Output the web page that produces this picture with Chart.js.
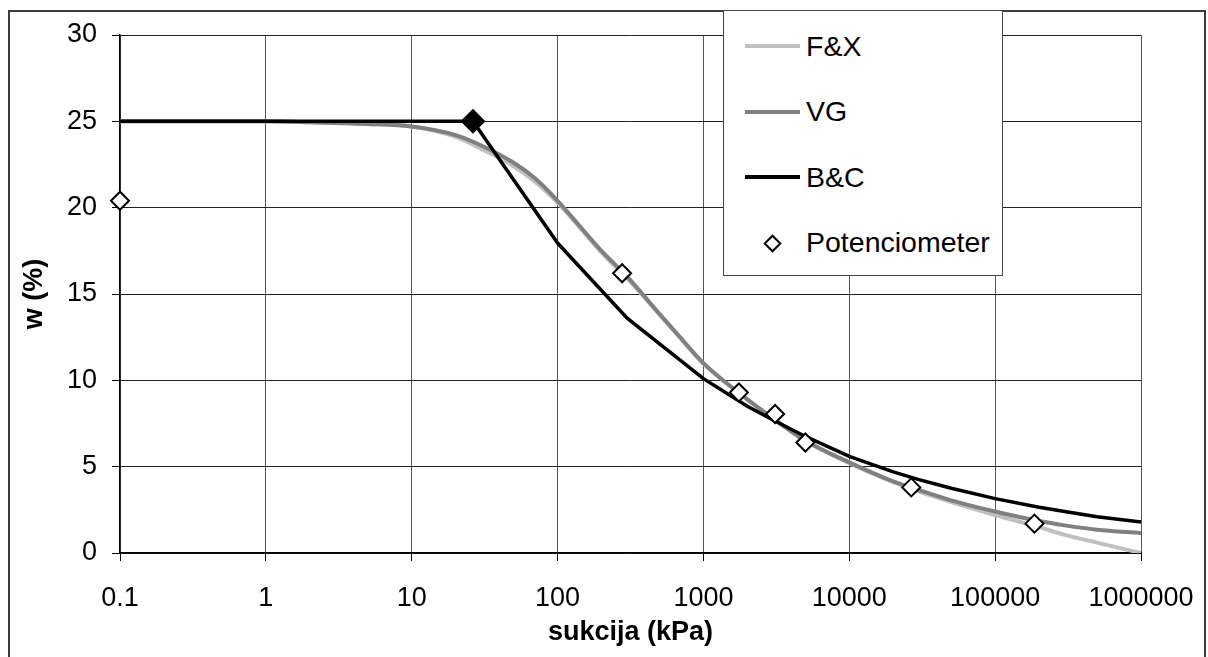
<!DOCTYPE html>
<html>
<head>
<meta charset="utf-8">
<script src="https://cdn.jsdelivr.net/npm/chart.js@4"></script>
<style>
body { margin: 0; background: #fff; font-family: "Liberation Sans", Arial, sans-serif; }
#wrap { position: relative; width: 1208px; height: 657px; overflow: hidden; }
#frame { position: absolute; left: 8px; top: 10px; width: 1198px; height: 700px; border: 2px solid #3c3c3c; box-sizing: border-box; }
#legend { position: absolute; left: 723px; top: 10px; width: 280px; height: 266px; border: 1.5px solid #444; background: #fff; box-sizing: border-box; }
.item { position: absolute; left: 0; height: 32px; display: flex; align-items: center; font-size: 28.5px; color: #000; white-space: nowrap; }
.sw { width: 55px; height: 4px; margin-left: 21px; margin-right: 6px; }
.mk { width: 55px; height: 32px; margin-left: 21px; margin-right: 6px; position: relative; }
.mk span { position: absolute; left: 21px; top: 10px; width: 9px; height: 9px; border: 2px solid #000; background: #fff; transform: rotate(45deg); }
</style>
</head>
<body>
<div id="wrap">
  <canvas id="chart" width="1208" height="657"></canvas>
  <div id="frame"></div>
  <div id="legend"></div>
</div>
<script>
// suction (kPa) on a log axis, water content w (%)
const xTicks = [0.1, 1, 10, 100, 1000, 10000, 100000, 1000000];
const yTicks = [0, 5, 10, 15, 20, 25, 30];

const curveSuction = [0.1, 1, 2, 5, 10, 20, 30, 50, 70, 100, 200, 300, 500, 700, 1000, 2000, 3000, 5000, 10000, 20000, 30000, 50000, 100000, 200000, 300000, 500000, 1000000];
const fxWater = [25, 25, 24.95, 24.85, 24.7, 24.1, 23.4, 22.4, 21.5, 20.3, 17.4, 15.9, 13.8, 12.4, 10.95, 8.9, 7.8, 6.5, 5.2, 4.1, 3.55, 2.95, 2.2, 1.5, 1.05, 0.6, 0.0];
const vgWater = [25, 25, 24.95, 24.85, 24.7, 24.2, 23.6, 22.6, 21.7, 20.4, 17.5, 16.0, 13.85, 12.45, 11.0, 8.9, 7.8, 6.5, 5.25, 4.15, 3.65, 3.05, 2.4, 1.85, 1.6, 1.35, 1.15];

const bcSuction = [0.1, 1, 10, 26.3, 100, 300, 1000, 2000, 3000, 5000, 10000, 20000, 30000, 50000, 100000, 200000, 300000, 500000, 1000000];
const bcWater = [25, 25, 25, 25, 17.95, 13.6, 10.1, 8.5, 7.7, 6.75, 5.6, 4.7, 4.25, 3.75, 3.15, 2.65, 2.4, 2.1, 1.8];
const airEntry = 26.3;

const potSuction = [0.1, 277, 1750, 3100, 5000, 26600, 186000];
const potWater = [20.4, 16.2, 9.3, 8.05, 6.4, 3.8, 1.7];

function pairs(xs, ys) {
    return xs.map(function (x, i) { return { x: x, y: ys[i] }; });
}

Chart.defaults.font.family = '"Liberation Sans", Arial, sans-serif';
Chart.defaults.color = '#000';

const chart = new Chart(document.getElementById('chart'), {
    type: 'line',
    data: {
        datasets: [
            {
                label: 'F&X', data: pairs(curveSuction, fxWater), order: 3,
                borderColor: '#c0c0c0', borderWidth: 4, pointRadius: 0,
                cubicInterpolationMode: 'monotone'
            },
            {
                label: 'VG', data: pairs(curveSuction, vgWater), order: 2,
                borderColor: '#808080', borderWidth: 4, pointRadius: 0,
                cubicInterpolationMode: 'monotone'
            },
            {
                label: 'B&C', data: pairs(bcSuction, bcWater), order: 1,
                borderColor: '#000', borderWidth: 3.5, tension: 0,
                pointStyle: 'rectRot', backgroundColor: '#000',
                pointRadius: function (c) { return c.raw && c.raw.x === airEntry ? 10 : 0; },
                clip: false
            },
            {
                label: 'Potenciometer', data: pairs(potSuction, potWater), order: 0,
                showLine: false, pointStyle: 'rectRot', pointRadius: 9,
                pointBackgroundColor: '#fff', pointBorderColor: '#000', pointBorderWidth: 2,
                clip: false
            }
        ]
    },
    options: {
        responsive: false,
        animation: false,
        layout: { padding: { top: 35, right: 67, left: 0, bottom: 0 } },
        plugins: { legend: { display: false }, tooltip: { enabled: false } },
        scales: {
            x: {
                type: 'logarithmic', min: 0.1, max: 1000000,
                afterBuildTicks: function (s) { s.ticks = xTicks.map(function (v) { return { value: v }; }); },
                afterFit: function (s) {
                    s.height = 104;
                    // labels may hang over the plot edge, don't shrink the plot for them
                    s.paddingLeft = 0;
                    s.paddingRight = 0;
                },
                ticks: {
                    callback: function (v) { return String(v); },
                    font: { size: 27 }, padding: 21, maxRotation: 0, autoSkip: false
                },
                grid: { color: '#555', lineWidth: 1, tickLength: 8, tickColor: '#000' },
                border: { color: '#000', width: 1.5 },
                title: { display: true, text: 'sukcija (kPa)', font: { size: 27, weight: 'bold' }, padding: { top: 0, bottom: 8 } }
            },
            y: {
                min: 0, max: 30,
                afterBuildTicks: function (s) { s.ticks = yTicks.map(function (v) { return { value: v }; }); },
                afterFit: function (s) { s.width = 120; },
                ticks: { font: { size: 27 }, padding: 15 },
                grid: { color: '#222', lineWidth: 1, tickLength: 8, tickColor: '#000' },
                border: { color: '#000', width: 1.5 },
                title: { display: true, text: 'w (%)', font: { size: 27, weight: 'bold' }, padding: { top: 18, bottom: 0 } }
            }
        }
    }
});

// legend box overlapping the plot, like the original
const legend = document.getElementById('legend');
chart.data.datasets.forEach(function (ds, i) {
    const item = document.createElement('div');
    item.className = 'item';
    item.style.top = (35 + i * 65.5 - 16) + 'px';
    let sw;
    if (ds.showLine === false) {
        sw = document.createElement('div');
        sw.className = 'mk';
        sw.appendChild(document.createElement('span'));
    } else {
        sw = document.createElement('div');
        sw.className = 'sw';
        sw.style.background = ds.borderColor;
    }
    item.appendChild(sw);
    const txt = document.createElement('span');
    txt.textContent = ds.label;
    item.appendChild(txt);
    legend.appendChild(item);
});
</script>
</body>
</html>
